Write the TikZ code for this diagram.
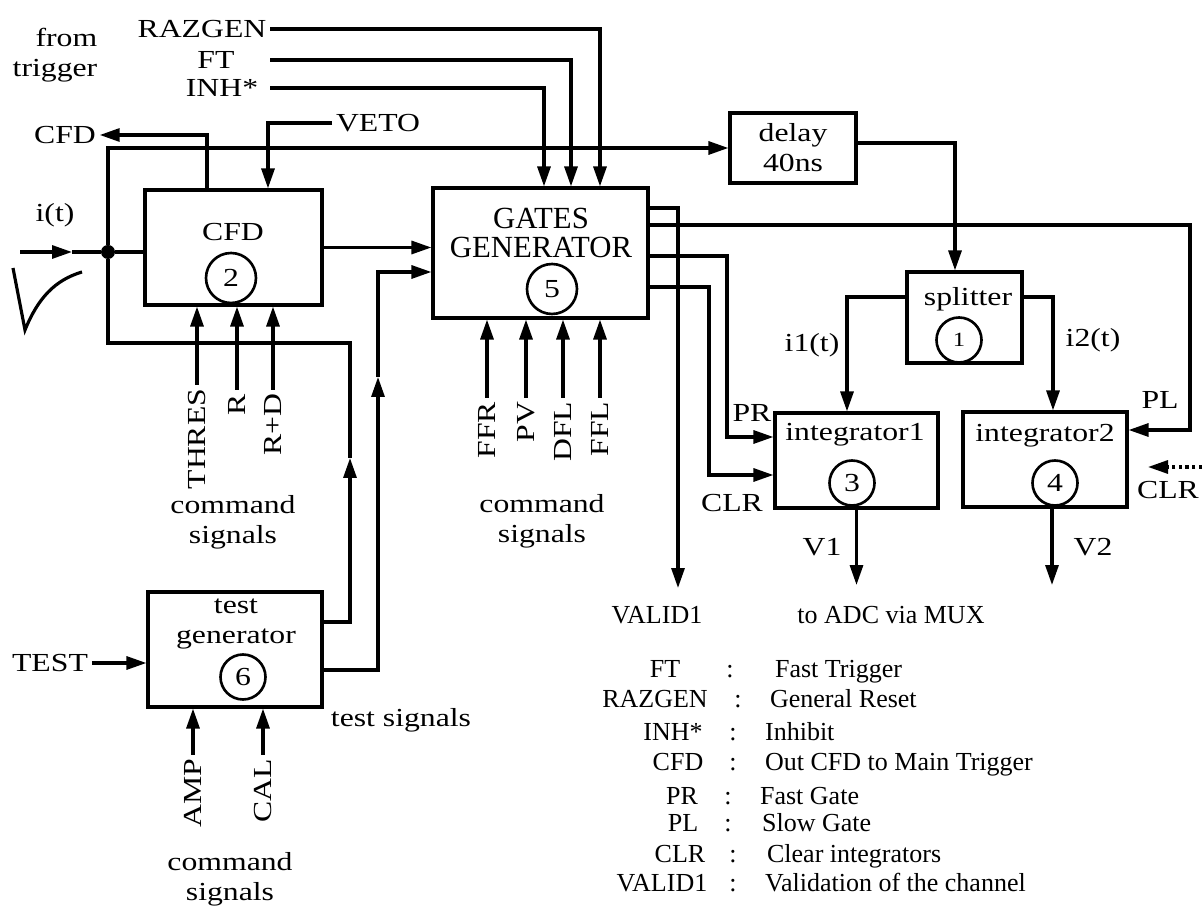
\documentclass[tikz,border=0pt]{standalone}
\usepackage{fontspec}
\setmainfont{Liberation Serif}
\newfontfamily\widefont[FakeStretch=1.22]{Liberation Serif}
\usetikzlibrary{arrows.meta}

\begin{document}
\begin{tikzpicture}[x=0.02cm, y=-0.02cm,
  blk/.style={draw, line width=1.8pt, inner sep=0pt},
  num/.style={circle, draw, line width=1.5pt, minimum size=0.9cm, inner sep=0pt,
    font=\widefont\fontsize{14.8}{17}\selectfont},
  lbl/.style={font=\widefont\fontsize{14.8}{17}\selectfont, align=center, inner sep=2pt},
  leg/.style={font=\fontsize{14.8}{17}\selectfont, inner sep=1pt},
  wire/.style={line width=1.8pt},
  sig/.style={wire, -{Triangle[length=0.4cm,width=0.26cm]}}]
  \useasboundingbox (0,0) rectangle (1204,911);

  % blocks
  \node[blk, minimum width=3.54cm, minimum height=2.3cm] (cfd) at (233.5,247.5) {};
  \node[blk, minimum width=4.3cm, minimum height=2.6cm] (gates) at (540.5,253) {};
  \node[blk, minimum width=2.52cm, minimum height=1.4cm] (delay) at (793,148) {};
  \node[blk, minimum width=2.3cm, minimum height=1.82cm] (split) at (964.5,317.5) {};
  \node[blk, minimum width=3.26cm, minimum height=1.9cm] (integ1) at (856.5,460.5) {};
  \node[blk, minimum width=3.28cm, minimum height=1.9cm] (integ2) at (1045,459.5) {};
  \node[blk, minimum width=3.48cm, minimum height=2.3cm] (testgen) at (235,649.5) {};

  % block texts
  \node[lbl] (cfdt) at (233,232) {CFD};
  \node[num, minimum size=1cm] (c2) at (231,278) {2};
  \node[lbl, font=\fontsize{17.5}{17}\selectfont] (gatest) at (541,233) {GATES\\GENERATOR};
  \node[num, minimum size=1cm] (c5) at (552,289) {5};
  \node[lbl] (delayt) at (793,148) {delay\\40ns};
  \node[lbl] (splitt) at (968,299) {splitter};
  \node[num, font=\widefont\fontsize{11.5}{13}\selectfont] (c1) at (959,340) {1};
  \node[lbl] (integ1t) at (855,435) {integrator1};
  \node[num] (c3) at (852,483) {3};
  \node[lbl] (integ2t) at (1045,436) {integrator2};
  \node[num] (c4) at (1055,483) {4};
  \node[lbl] (testgent) at (236,624) {test\\generator};
  \node[num] (c6) at (243,677) {6};

  % trigger signals
  \node[lbl, align=right] (fromtrig) at (55,55) {from\\trigger};
  \node[lbl] (razgen) at (202,29) {RAZGEN};
  \node[lbl] (ft) at (216,60) {FT};
  \node[lbl] (inhs) at (222,88) {INH*};
  \draw[sig] (razgen.east) -| ([xshift=1.19cm]gates.north);
  \draw[sig] (ft.east -| razgen.east) -| ([xshift=0.61cm]gates.north);
  \draw[sig] (inhs.east -| razgen.east) -| ([xshift=0.07cm]gates.north);
  \node[lbl] (veto) at (378,123) {VETO};
  \draw[sig] (veto.west) -| ([xshift=0.69cm]cfd.north);
  \node[lbl] (cfdout) at (65,135) {CFD};
  \draw[sig] ([xshift=-0.53cm]cfd.north) |- (cfdout.east);

  % input
  \node[lbl] (it) at (55,215) {i(t)};
  \coordinate (in) at (20,252);
  \coordinate (inarr) at (72,252);
  \node[circle, fill, inner sep=0pt, minimum size=0.28cm] (dot) at (108,252) {};
  \draw[sig] (in) -- (inarr);
  \draw[wire] (inarr) -- (dot) -- (dot -| cfd.west);
  \draw[wire] (13,268) -- (25,330) .. controls (38,298) and (55,280) .. (82,272);
  \draw[sig] (dot) |- (delay.west);
  \draw[sig] (cfd.east) -- (cfd.east -| gates.west);

  % test generator
  \node[lbl] (testin) at (50,663) {TEST};
  \draw[sig] (testin.east) -- (testin.east -| testgen.west);
  \coordinate (t1a) at (350,458);
  \coordinate (t1b) at (350,343);
  \draw[sig] ([yshift=0.55cm]testgen.east) -| (t1a);
  \draw[wire] (t1a) -- (t1b) -| (dot);
  \coordinate (t2a) at (378,377);
  \draw[sig] ([yshift=-0.41cm]testgen.east) -| (t2a);
  \draw[sig] (t2a) |- ([yshift=-0.38cm]gates.west);
  \node[lbl] (tsig) at (401,720) {test signals};

  % command signals
  \node[lbl, rotate=90, anchor=east] (thres) at (197,385) {THRES};
  \node[lbl, rotate=90, anchor=east] (rr) at (237,390) {R};
  \node[lbl, rotate=90, anchor=east] (rd) at (273,390) {R+D};
  \foreach \n in {thres,rr,rd}
    \draw[sig] (\n.east) -- (\n.east |- cfd.south);
  \node[lbl] (cmd1) at (233,522) {command\\signals};
  \node[lbl, rotate=90, anchor=east] (ffr) at (487,398) {FFR};
  \node[lbl, rotate=90, anchor=east] (pv) at (526,398) {PV};
  \node[lbl, rotate=90, anchor=east] (dfl) at (563,398) {DFL};
  \node[lbl, rotate=90, anchor=east] (ffl) at (600,398) {FFL};
  \foreach \n in {ffr,pv,dfl,ffl}
    \draw[sig] (\n.east) -- (\n.east |- gates.south);
  \node[lbl] (cmd2) at (542,521) {command\\signals};
  \node[lbl, rotate=90, anchor=east] (amp) at (193,755) {AMP};
  \node[lbl, rotate=90, anchor=east] (cal) at (263,755) {CAL};
  \foreach \n in {amp,cal}
    \draw[sig] (\n.east) -- (\n.east |- testgen.south);
  \node[lbl] (cmd3) at (230,879) {command\\signals};

  % gates outputs
  \coordinate (vend) at (678,588);
  \draw[sig] ([yshift=0.9cm]gates.east) -| (vend);
  \node[leg] (valid) at (657,615) {VALID1};
  \coordinate (plc) at (1190,330);
  \draw[sig] ([yshift=0.56cm]gates.east) -| (plc) |- ([yshift=0.59cm]integ2.east);
  \coordinate (prc) at (727,350);
  \draw[sig] ([yshift=-0.06cm]gates.east) -| (prc) |- ([yshift=0.47cm]integ1.west);
  \coordinate (clrc) at (709,400);
  \draw[sig] ([yshift=-0.68cm]gates.east) -| (clrc) |- ([yshift=-0.29cm]integ1.west);
  \node[lbl] (pr) at (752,413) {PR};
  \node[lbl] (clr) at (732,503) {CLR};
  \node[lbl] (pl) at (1160,400) {PL};

  % delay, splitter, integrators
  \draw[sig] ([yshift=0.1cm]delay.east) -| ([xshift=-0.19cm]split.north);
  \draw[sig] ([yshift=0.41cm]split.west) -| ([xshift=-0.19cm]integ1.north);
  \draw[sig] ([yshift=0.41cm]split.east) -| ([xshift=0.16cm]integ2.north);
  \node[lbl] (i1) at (812,345) {i1(t)};
  \node[lbl] (i2) at (1093,340) {i2(t)};
  \coordinate (oend) at (0,585);
  \coordinate (v2top) at ([xshift=0.14cm]integ2.south);
  \draw[sig] (integ1.south) -- (integ1.south |- oend);
  \draw[sig] (v2top) -- (v2top |- oend);
  \node[lbl] (v1) at (822,547) {V1};
  \node[lbl] (v2) at (1093,547) {V2};
  \node[leg] (adc) at (891,615) {to ADC via MUX};
  \coordinate (clrin) at (1202,467);
  \coordinate (clrend) at (1148,467);
  \draw[sig, dotted] (clrin) -- (clrend);
  \node[lbl] (clr2) at (1168,490) {CLR};

  % legend
  \foreach \yy/\nm/\xn/\xc/\xd/\txt [count=\i] in {
      670/FT/665/730/773/Fast Trigger,
      700/RAZGEN/655/738/768/General Reset,
      733/INH*/673/733/763/Inhibit,
      763/CFD/678/733/763/Out CFD to Main Trigger,
      797/PR/682/728/758/Fast Gate,
      823/PL/683/728/760/Slow Gate,
      855/CLR/680/733/765/Clear integrators,
      883/VALID1/662/733/763/Validation of the channel} {
    \node[leg, anchor=base] (ln\i) at (\xn,\yy+8) {\nm};
    \node[leg, anchor=base] (lc\i) at (\xc,\yy+8) {:};
    \node[leg, anchor=base west] (ld\i) at (\xd,\yy+8) {\txt};
  }
\end{tikzpicture}
\end{document}
